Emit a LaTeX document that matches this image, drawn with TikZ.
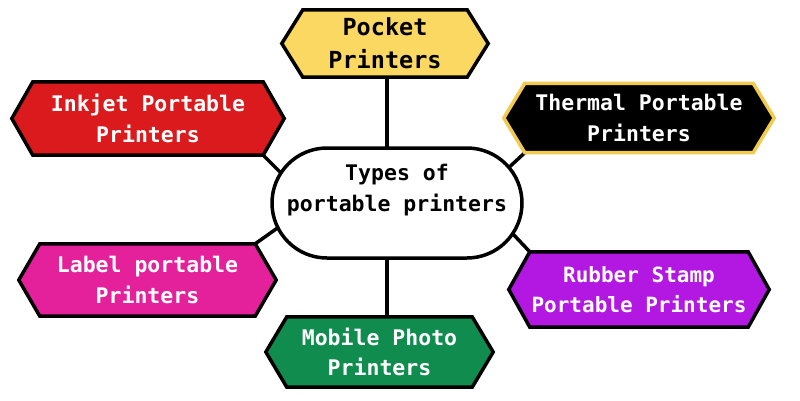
\documentclass[tikz,border=0pt]{standalone}
\usepackage{fontspec}
\setmonofont{DejaVu Sans Mono}
\usetikzlibrary{calc}
\pgfdeclarelayer{back}
\pgfdeclarelayer{mid}
\pgfsetlayers{back,mid,main}
\definecolor{cyel}{HTML}{FBD862}
\definecolor{cyelb}{HTML}{F2CB4E}
\definecolor{cred}{HTML}{DA1A1C}
\definecolor{cpink}{HTML}{E4219B}
\definecolor{cpurp}{HTML}{B218E2}
\definecolor{cgreen}{HTML}{108C4E}
\tikzset{
  txt/.style={font=\ttfamily\bfseries\fontsize{21.5}{30.5}\selectfont, align=center, inner sep=0pt},
  hexbox/.style={txt, minimum width=#1},
  hexline/.style={line width=3.5pt, line join=miter},
  conn/.style={line width=3.5pt, draw=black},
  centerbox/.style={draw=black, fill=white, line width=3.5pt, rounded corners=55pt,
    minimum width=250pt, minimum height=110pt, inner sep=0pt}
}
\newcommand\myhex[2]{%
  \begin{pgfonlayer}{mid}
    \filldraw[hexline,#2] ([xshift=-21pt]#1.west) -- (#1.north west) -- (#1.north east)
      -- ([xshift=21pt]#1.east) -- (#1.south east) -- (#1.south west) -- cycle;
  \end{pgfonlayer}}
\begin{document}
\begin{tikzpicture}[x=1pt,y=-1pt]
\useasboundingbox (0,0) rectangle (800,400);

% center
\node[centerbox] (c) at (397,203) {};
\node[txt, text=black] (ctext) at (397,190) {Types of\\portable printers};

% hexagon nodes
\node[hexbox=164pt, minimum height=67pt, text=black,
  font=\ttfamily\bfseries\fontsize{23.5}{33}\selectfont] (pocket) at (385,43.5) {Pocket\\Printers};
\node[hexbox=228pt, minimum height=69pt, text=white] (therm) at (639,118) {Thermal Portable\\Printers};
\node[hexbox=230pt, minimum height=73pt, text=white] (ink) at (148,118.5) {Inkjet Portable\\Printers};
\node[hexbox=215pt, minimum height=72pt, text=white] (lab) at (147.5,280) {Label portable\\Printers};
\node[hexbox=218pt, minimum height=75pt, text=white,
  font=\ttfamily\bfseries\fontsize{21}{30}\selectfont] (rub) at (639,289.5) {Rubber Stamp\\Portable Printers};
\node[hexbox=185pt, minimum height=70pt, text=white] (mob) at (379.5,352) {Mobile Photo\\Printers};

\myhex{pocket}{fill=cyel, draw=black}
\myhex{therm}{fill=black, draw=cyelb}
\myhex{ink}{fill=cred, draw=black}
\myhex{lab}{fill=cpink, draw=black}
\myhex{rub}{fill=cpurp, draw=black}
\myhex{mob}{fill=cgreen, draw=black}

% connectors
\coordinate (cc) at (387,203);
\coordinate (inkend) at (300,192);
\coordinate (thend) at (490,185);
\coordinate (lbend) at (300,212);
\coordinate (rbend) at (495,215);
\begin{pgfonlayer}{back}
  \fill[white] (0,0) rectangle (800,400);
  \draw[conn] (cc |- pocket.south) -- (cc);
  \draw[conn] (cc |- mob.north) -- (cc);
  \draw[conn] (ink.south east) -- (inkend);
  \draw[conn] (therm.south west) -- (thend);
  \draw[conn] (lab.north east) -- (lbend);
  \draw[conn] (rub.north west) -- (rbend);
\end{pgfonlayer}
\end{tikzpicture}
\end{document}
